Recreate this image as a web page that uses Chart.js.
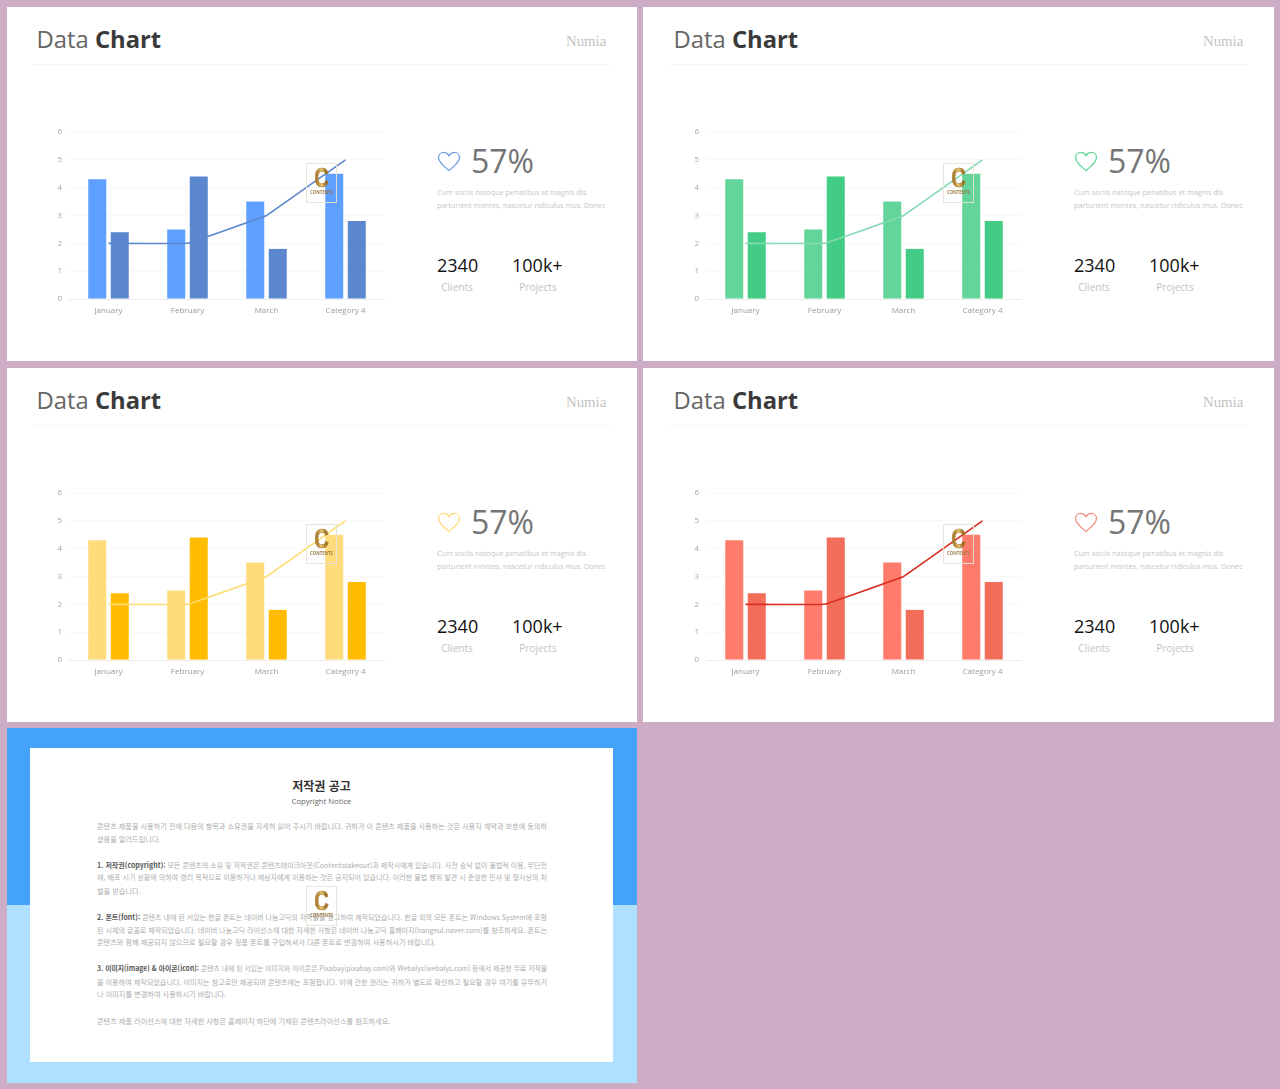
<!DOCTYPE html>
<html lang="ko"><head><meta charset="utf-8">
<script src="https://cdn.jsdelivr.net/npm/chart.js@4"></script>
<style>
html,body{margin:0;padding:0;background:#ccadc5;width:1280px;height:1089px;overflow:hidden}
body{position:relative;font-family:"Open Sans",sans-serif}
.panel{position:absolute;height:354px;background:#fff;overflow:hidden}
.inner{position:absolute;left:0;top:0;width:640px;height:354px}
.inner>*{position:absolute;white-space:nowrap}
.t{left:29.500px;top:14px;font-size:23.800px;line-height:36px;color:#666}
.t b{color:#3a3a3a;font-weight:700}
.n{left:559px;top:25px;font:14.800px/18px "Liberation Serif",serif;color:#c4c4c4}
.hr{left:25px;top:57px;width:580px;height:1px;background:#f7f7f7}
.p{left:464px;top:132px;font-size:32px;line-height:44px;color:#757575}
.d{left:430px;font-size:7.300px;line-height:13px;color:#c6c6c6}
.num{font-size:18px;line-height:24px;color:#111;top:246px}
.lab{font-size:10px;line-height:14px;color:#c2c2c2;top:273px;transform:translateX(-50%)}
.wm{width:29px;height:38px;border:1px solid #e8e2d4;text-align:center;opacity:.92}
.wm i{display:block;font:700 28px/27px "Liberation Sans",sans-serif;font-style:normal;transform:scaleX(.72);
  background:linear-gradient(90deg,#a8782a 30%,#e6c264 50%,#96681c 70%);-webkit-background-clip:text;background-clip:text;color:transparent;-webkit-text-stroke:.5px #a8782a}
.wm u{display:block;font:700 4.300px/6px "Open Sans",sans-serif;color:#96753c;text-decoration:none;margin-top:-2px}
canvas{position:absolute;left:33px;top:113px}
#cp{left:7px;top:728px;width:630px;height:355px;background:#afe0ff;position:absolute;overflow:hidden}
#cp .top{position:absolute;left:0;top:0;width:630px;height:177px;background:#45a2f9}
#cp .w{position:absolute;left:23px;top:20px;width:583px;height:314px;background:#fff}
#cp .h1{position:absolute;left:0;width:583px;text-align:center;top:30px;font:700 12px/16px "Noto Sans CJK KR",sans-serif;color:#333}
#cp .h2{position:absolute;left:0;width:583px;text-align:center;top:47px;font:7.700px/12px "Open Sans",sans-serif;color:#666}
#cp .l{position:absolute;left:90px;font:7.200px/12px "Noto Sans CJK KR",sans-serif;color:#adadad;white-space:nowrap;transform-origin:0 50%}
#cp .l b{color:#5a5a5a;font-weight:700}
</style></head><body>
<script>
const categories = ["January", "February", "March", "Category 4"];
const seriesOne = [4.3, 2.5, 3.5, 4.5];
const seriesTwo = [2.4, 4.4, 1.8, 2.8];
const seriesLine = [2, 2, 3, 5];
const yMax = 6;
const panelColors = [
  ["#5f9fff", "#5b87cf", "#5b87cf", "#6f9fe0"],
  ["#63d59a", "#42cc85", "#83d9b2", "#63d59a"],
  ["#ffdb7c", "#ffbc00", "#ffdc70", "#ffdb7c"],
  ["#ff7b6b", "#f26d5a", "#d92d20", "#ef8f80"]
];
const panelBoxes = [[7,7,630,0],[643,7,631,1],[7,368,630,0],[643,368,631,1]];
const titleWords = ["Data", "Chart"];
const brand = "Numia";
const percentText = "57%";
const descLines = ["Cum sociis natoque penatibus et magnis dis", "parturient montes, nascetur ridiculus mus. Donec"];
const stats = [["2340","Clients"],["100k+","Projects"]];
const copyLines = [
 [98,"j","콘텐츠 제품을 사용하기 전에 다음의 항목과 소유권을 자세히 읽어 주시기 바랍니다. 귀하가 이 콘텐츠 제품을 사용하는 것은 사용자 계약과 보호에 동의하"],
 [111,"","셨음을 알려드립니다."],
 [137,"j","<b>1. 저작권(copyright):</b> 모든 콘텐츠의 소유 및 저작권은 콘텐츠테이크아웃(Contentstakeout)과 제작사에게 있습니다. 사전 승낙 없이 불법적 이용, 무단전"],
 [149,"j","재, 배포 시기 상황에 의하여 영리 목적으로 이용하거나 제삼자에게 이용하는 것은 금지되어 있습니다. 이러한 불법 행위 발견 시 준엄한 민사 및 형사상의 처"],
 [163,"","벌을 받습니다."],
 [189,"j","<b>2. 폰트(font):</b> 콘텐츠 내에 된 서있는 한글 폰트는 네이버 나눔고딕의 저작물을 참고하여 제작되었습니다. 한글 외의 모든 폰트는 Windows System에 포함"],
 [202,"j","된 시체의 글꼴로 제작되었습니다. 네이버 나눔고딕 라이선스에 대한 자세한 사항은 네이버 나눔고딕 홈페이지(hangeul.naver.com)를 참조하세요. 폰트는"],
 [214,"","콘텐츠와 함께 제공되지 않으므로 필요할 경우 정품 폰트를 구입하셔서 다른 폰트로 변경하여 사용하시기 바랍니다."],
 [240,"j","<b>3. 이미지(image) &amp; 아이콘(icon):</b> 콘텐츠 내에 된 서있는 이미지와 아이콘은 Pixabay(pixabay.com)와 Webalys(webalys.com) 등에서 제공한 무료 저작물"],
 [254,"j","을 이용하여 제작되었습니다. 이미지는 참고로만 제공되며 콘텐츠에는 포함합니다. 이에 관한 권리는 귀하가 별도로 확인하고 필요할 경우 여기를 유무하거"],
 [266,"","나 이미지를 변경하여 사용하시기 바랍니다."],
 [293,"","콘텐츠 제품 라이선스에 대한 자세한 사항은 홈페이지 하단에 기재된 콘텐츠라이선스를 참조하세요."]
];
const copyWidth = 450;
const wmHtml = '<i>C</i><u>CONTENTS</u>';

panelColors.forEach((c, i) => {
  const [ox, oy, pw, dx] = panelBoxes[i];
  const p = document.createElement("div");
  p.className = "panel"; p.style.left = ox + "px"; p.style.top = oy + "px"; p.style.width = pw + "px";
  const inner = document.createElement("div");
  inner.className = "inner"; inner.style.left = dx + "px";
  inner.innerHTML = `
   <div class="t">${titleWords[0]} <b>${titleWords[1]}</b></div>
   <div class="n">${brand}</div><div class="hr"></div>
   <svg style="left:430px;top:143px" width="24" height="23" viewBox="0 0 24 24" preserveAspectRatio="none"><path d="M12 21.5C8 17.8 1.5 13 1.5 7.8 1.5 4.7 3.9 2.6 6.6 2.6c2.3 0 4.3 1.3 5.4 3.4 1.1-2.1 3.1-3.4 5.4-3.4 2.700 0 5.100 2.100 5.100 5.200 0 5.200-6.500 10-10.500 13.700z" fill="none" stroke="${c[3]}" stroke-width="1.300"/></svg>
   <div class="p">${percentText}</div>
   <div class="d" style="top:179px">${descLines[0]}</div>
   <div class="d" style="top:192px">${descLines[1]}</div>
   <div class="num" style="left:430px">${stats[0][0]}</div>
   <div class="num" style="left:505px">${stats[1][0]}</div>
   <div class="lab" style="left:450px">${stats[0][1]}</div>
   <div class="lab" style="left:531px">${stats[1][1]}</div>`;
  const cv = document.createElement("canvas");
  cv.width = 360; cv.height = 205; cv.style.width = "360px"; cv.style.height = "205px";
  inner.appendChild(cv);
  const wm = document.createElement("div");
  wm.className = "wm"; wm.style.left = "299px"; wm.style.top = "156px"; wm.innerHTML = wmHtml;
  inner.appendChild(wm);
  p.appendChild(inner);
  document.body.appendChild(p);
  new Chart(cv, {
    type: "bar",
    data: { labels: categories, datasets: [
      { type:"line", label:"Line", data: seriesLine, borderColor:c[2], borderWidth:1.6, pointRadius:0, tension:0.03, fill:false, order:0 },
      { label:"Series 1", data: seriesOne, backgroundColor:c[0], categoryPercentage:0.57, barPercentage:0.8, order:1 },
      { label:"Series 2", data: seriesTwo, backgroundColor:c[1], categoryPercentage:0.57, barPercentage:0.8, order:2 }
    ]},
    options: {
      responsive:false, animation:false, devicePixelRatio:1,
      layout:{ padding:{ top:12, right:15, left:0, bottom:0 } },
      plugins:{ legend:{display:false}, tooltip:{enabled:false} },
      scales:{
        x:{ grid:{display:false, drawTicks:false}, border:{display:false},
            ticks:{ color:"#9a9a9a", font:{family:"Open Sans",size:8}, padding:7, maxRotation:0 },
            afterFit(s){ s.height = 26; } },
        y:{ min:0, max:yMax, grid:{ color:t=>t.tick.value===0?"#ececec":"#f8f8f8", drawTicks:false, lineWidth:1 }, border:{display:false},
            ticks:{ stepSize:1, color:"#a5a5a5", font:{family:"Open Sans",size:8}, padding:7 },
            afterFit(s){ s.width = 29; } }
      }
    }
  });
});

const cp = document.createElement("div");
cp.id = "cp";
cp.innerHTML = '<div class="top"></div><div class="w"><div class="h1">저작권 공고</div><div class="h2">Copyright Notice</div></div>';
document.body.appendChild(cp);
copyLines.forEach(([y, j, s]) => {
  const d = document.createElement("div");
  d.className = "l";
  d.style.top = (y - 6) + "px";
  d.innerHTML = s;
  cp.appendChild(d);
  if (j) d.style.transform = "scaleX(" + (copyWidth / d.getBoundingClientRect().width) + ")";
});
const w = document.createElement("div");
w.className = "wm"; w.style.position = "absolute"; w.style.left = "299px"; w.style.top = "158px";
w.innerHTML = wmHtml;
cp.appendChild(w);
</script>
</body></html>
